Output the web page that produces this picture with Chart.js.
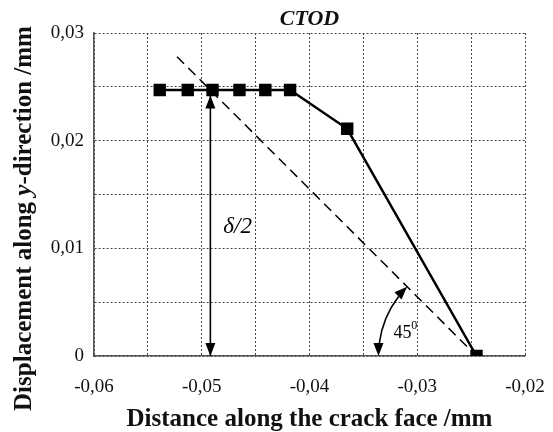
<!DOCTYPE html>
<html>
<head>
<meta charset="utf-8">
<script src="https://cdn.jsdelivr.net/npm/chart.js@4.4.0/dist/chart.umd.min.js"></script>
<style>
  html, body { margin: 0; padding: 0; background: #fff; }
</style>
</head>
<body>
<canvas id="myChart" width="553" height="432"></canvas>
<script>
// crack face opening profile, mm
const distance = [-0.0539, -0.0513, -0.0490, -0.0465, -0.0441, -0.0418, -0.0365, -0.0245]
const displacement = [0.0247, 0.0247, 0.0247, 0.0247, 0.0247, 0.0247, 0.0211, 0]
// 45 deg line from the crack tip
const lineX = [-0.0523, -0.0245]
const lineY = [0.0278, 0]
// delta/2 arrow
const arrowX = [-0.0492, -0.0492]
const arrowY = [0.0242, 0]
// where the angle arc meets the x axis
const arcStartX = -0.0336
// labelled ticks
const xTicks = [-0.06, -0.05, -0.04, -0.03, -0.02]
const yTicks = [0, 0.01, 0.02, 0.03]

const SERIF = '"Liberation Serif", "Times New Roman", serif'

const fmt = (v) => v === 0 ? '0' : v.toFixed(2).replace('.', ',')
const onList = (list, v) => list.some((t) => Math.abs(t - v) < 1e-6)

const toPoints = (xs, ys) => xs.map((x, i) => ({ x: x, y: ys[i] }))

const head = (ctx, x, y, dx, dy, len, w) => {
    const n = Math.hypot(dx, dy)
    dx /= n
    dy /= n
    ctx.beginPath()
    ctx.moveTo(x, y)
    ctx.lineTo(x - dx * len - dy * w, y - dy * len + dx * w)
    ctx.lineTo(x - dx * len + dy * w, y - dy * len - dx * w)
    ctx.closePath()
    ctx.fill()
}

// arrowheads, angle arc, text notes and the y title
const notes = {
    id: 'notes',
    afterDatasetsDraw(chart) {
        const ctx = chart.ctx
        const xs = chart.scales.x
        const ys = chart.scales.y
        ctx.save()
        ctx.fillStyle = '#000'
        ctx.strokeStyle = '#000'

        // delta/2 arrow heads
        const ax = xs.getPixelForValue(arrowX[0])
        head(ctx, ax, ys.getPixelForValue(arrowY[0]), 0, -1, 13, 5)
        head(ctx, ax, ys.getPixelForValue(arrowY[1]), 0, 1, 13, 5)

        // 45 deg arc around the crack tip
        const cx = xs.getPixelForValue(lineX[1])
        const cy = ys.getPixelForValue(lineY[1])
        const r = cx - xs.getPixelForValue(arcStartX)
        const a1 = Math.PI
        const a2 = Math.atan2(ys.getPixelForValue(lineY[0]) - cy, xs.getPixelForValue(lineX[0]) - cx) + 2 * Math.PI
        const len = 13
        ctx.lineWidth = 1.6
        ctx.beginPath()
        ctx.arc(cx, cy, r, a1 + len / r, a2 - len / r)
        ctx.stroke()
        head(ctx, cx + r * Math.cos(a1), cy + r * Math.sin(a1), Math.sin(a1), -Math.cos(a1), len, 5)
        head(ctx, cx + r * Math.cos(a2), cy + r * Math.sin(a2), -Math.sin(a2), Math.cos(a2), len, 5)

        // text notes
        ctx.textBaseline = 'alphabetic'
        ctx.textAlign = 'left'
        ctx.font = 'italic 23px ' + SERIF
        ctx.fillText('δ/2', xs.getPixelForValue(-0.0480), ys.getPixelForValue(0.0114))
        ctx.font = '18px ' + SERIF
        ctx.textAlign = 'center'
        ctx.fillText('45', xs.getPixelForValue(-0.03137), ys.getPixelForValue(0.00167))
        ctx.font = '12px ' + SERIF
        ctx.textAlign = 'left'
        ctx.fillText('0', xs.getPixelForValue(-0.03055), ys.getPixelForValue(0.0025))

        // y axis title, "y" in italics
        const parts = [
            ['Displacement along ', 'bold 25px ' + SERIF],
            ['y', 'italic bold 25px ' + SERIF],
            ['-direction /mm', 'bold 25px ' + SERIF]
        ]
        let total = 0
        parts.forEach((p) => { ctx.font = p[1]; total += ctx.measureText(p[0]).width })
        ctx.translate(31, (chart.chartArea.top + chart.chartArea.bottom) / 2 + 24)
        ctx.rotate(-Math.PI / 2)
        let pos = -total / 2
        ctx.fillStyle = '#111'
        parts.forEach((p) => {
            ctx.font = p[1]
            ctx.fillText(p[0], pos, 0)
            pos += ctx.measureText(p[0]).width
        })
        ctx.restore()
    }
}

const grafica = document.querySelector('#myChart')

const config = {
    type: 'scatter',
    data: {
        datasets: [{
            label: 'profile',
            data: toPoints(distance, displacement),
            showLine: true,
            borderColor: '#000',
            backgroundColor: '#000',
            borderWidth: 2.5,
            pointStyle: 'rect',
            pointRadius: 7,
            pointHoverRadius: 7
        }, {
            label: '45',
            data: toPoints(lineX, lineY),
            showLine: true,
            borderColor: '#000',
            borderWidth: 1.5,
            borderDash: [10, 6],
            pointRadius: 0
        }, {
            label: 'delta',
            data: toPoints(arrowX, arrowY),
            showLine: true,
            borderColor: '#000',
            borderWidth: 1.6,
            pointRadius: 0
        }]
    },
    options: {
        responsive: false,
        animation: false,
        layout: { padding: { left: 0, right: 28, top: 0, bottom: 0 } },
        plugins: {
            legend: { display: false },
            tooltip: { enabled: false },
            title: {
                display: true,
                text: 'CTOD',
                fullSize: false,
                color: '#111',
                font: { family: SERIF, size: 22, weight: 'bold', style: 'italic', lineHeight: 1 },
                padding: { top: 8, bottom: 3 }
            }
        },
        scales: {
            x: {
                type: 'linear',
                min: -0.06,
                max: -0.02,
                afterFit: (scale) => {
                    scale.height = 76
                    scale.paddingLeft = 0
                    scale.paddingRight = 0
                },
                ticks: {
                    stepSize: 0.005,
                    padding: 20,
                    color: '#111',
                    font: { family: SERIF, size: 19 },
                    callback: (v) => onList(xTicks, v) ? fmt(v) : ''
                },
                grid: { color: '#444', lineWidth: 1, drawTicks: false },
                border: { display: true, color: '#555', width: 1.6, dash: [2, 2] },
                title: {
                    display: true,
                    text: 'Distance along the crack face /mm',
                    color: '#111',
                    font: { family: SERIF, size: 25, weight: 'bold', lineHeight: 1 },
                    padding: { top: 0, bottom: 0 }
                }
            },
            y: {
                type: 'linear',
                min: 0,
                max: 0.03,
                afterFit: (scale) => { scale.width = 94 },
                ticks: {
                    stepSize: 0.005,
                    padding: 10,
                    color: '#111',
                    font: { family: SERIF, size: 19 },
                    callback: (v) => onList(yTicks, v) ? fmt(v) : ''
                },
                grid: { color: '#444', lineWidth: 1, drawTicks: false },
                border: { display: true, color: '#555', width: 1.6, dash: [2, 2] }
            }
        }
    },
    plugins: [notes]
}

const graphicmap = new Chart(grafica, config)
</script>
</body>
</html>
